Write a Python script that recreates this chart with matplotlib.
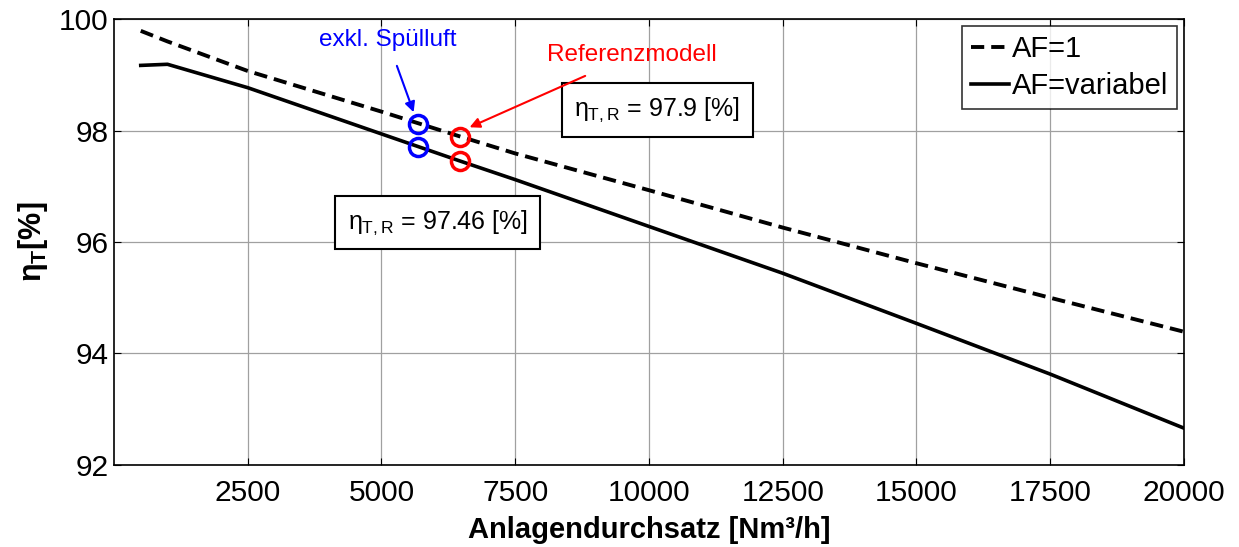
import numpy as np
import matplotlib
matplotlib.use("Agg")
import matplotlib.pyplot as plt

plt.rcParams['font.family'] = ['Liberation Sans', 'DejaVu Sans']
plt.rcParams['mathtext.fontset'] = 'custom'
plt.rcParams['mathtext.rm'] = 'Liberation Sans'
plt.rcParams['mathtext.it'] = 'Liberation Sans'
plt.rcParams['mathtext.bf'] = 'Liberation Sans:bold'

# Daten
x_af1 = [500, 1000, 2500, 5000, 6450, 7500, 10000, 12500, 15000, 17500, 20000]
eta_af1 = [99.79, 99.60, 99.07, 98.34, 97.90, 97.59, 96.93, 96.26, 95.62, 95.00, 94.39]

x_var = [500, 1000, 2500, 5000, 6450, 7500, 10000, 12500, 15000, 17500, 20000]
eta_var = [99.17, 99.19, 98.77, 97.94, 97.46, 97.12, 96.28, 95.44, 94.54, 93.63, 92.66]

# markierte Punkte
x_ref = 6470
eta_ref = [97.89, 97.46]
x_exkl = 5690
eta_exkl = [98.12, 97.71]

xticks = [2500, 5000, 7500, 10000, 12500, 15000, 17500, 20000]
yticks = [92, 94, 96, 98, 100]

fig = plt.figure(figsize=(12.39, 5.47), dpi=100)
ax = fig.add_axes([0.092, 0.15, 0.8636, 0.815])

ax.plot(x_af1, eta_af1, color='black', lw=2.8, linestyle=(0, (3.4, 1.8)), label='AF=1')
ax.plot(x_var, eta_var, color='black', lw=2.6, label='AF=variabel')

ax.plot([x_exkl] * 2, eta_exkl, 'o', ms=13, mfc='none', mec='blue', mew=2.5, ls='none')
ax.plot([x_ref] * 2, eta_ref, 'o', ms=13, mfc='none', mec='red', mew=2.5, ls='none')

ax.set_xlim(0, 20000)
ax.set_ylim(92, 100)
ax.set_xticks(xticks)
ax.set_yticks(yticks)
ax.grid(True, color='#a0a0a0', lw=0.9)
ax.tick_params(direction='in', top=True, right=True, labelsize=21.5, length=5, pad=4)
ax.tick_params(axis='x', pad=10)
for s in ax.spines.values():
    s.set_linewidth(1.2)

ax.set_xlabel('Anlagendurchsatz [Nm³/h]', fontsize=21, fontweight='bold')
ax.xaxis.set_label_coords(0.5, -0.115)
ax.set_ylabel(r'$\mathbf{\eta_T}$[%]', fontsize=22, fontweight='bold', labelpad=6)

# Textboxen
box = dict(boxstyle='square,pad=0.5', fc='white', ec='black', lw=1.5)
ax.text(10160, 98.37, r'$\eta_{T,R}$ = 97.9 [%]', fontsize=18, ha='center', va='center', bbox=box)
ax.text(6050, 96.35, r'$\eta_{T,R}$ = 97.46 [%]', fontsize=18, ha='center', va='center', bbox=box)

ax.annotate('exkl. Spülluft', xy=(5601, 98.33), xytext=(5115, 99.62),
            fontsize=17.5, color='blue', ha='center', va='center',
            arrowprops=dict(arrowstyle='-|>', color='blue', lw=1.5, shrinkA=9, shrinkB=0,
                            mutation_scale=15))
ax.annotate('Referenzmodell', xy=(6647, 98.06), xytext=(9672, 99.35),
            fontsize=17.5, color='red', ha='center', va='center',
            arrowprops=dict(arrowstyle='-|>', color='red', lw=1.5, shrinkA=12, shrinkB=0,
                            mutation_scale=15))

leg = ax.legend(loc='upper right', fontsize=21, frameon=True, fancybox=False,
                handlelength=1.3, handletextpad=0.1, borderpad=0.3, labelspacing=0.3,
                borderaxespad=0.25)
leg.get_frame().set_edgecolor('black')
leg.get_frame().set_linewidth(1.2)

fig.savefig('out.png', dpi=100)
